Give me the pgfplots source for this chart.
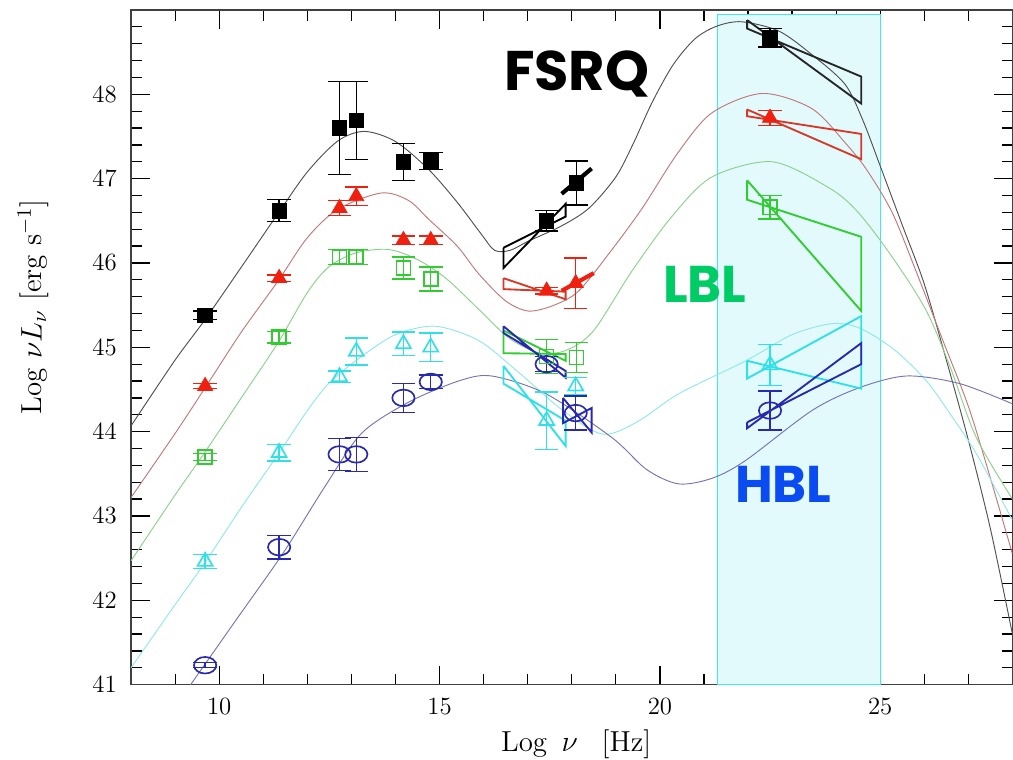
\documentclass[border=0pt]{standalone}
\usepackage{fontspec}
\usepackage{pgfplots}
\pgfplotsset{compat=1.18}
\usetikzlibrary{calc}
\newfontfamily\labfont{Poppins}[UprightFont=* Bold]

\definecolor{bzBlack}{HTML}{000000}
\definecolor{bzRed}{HTML}{F02010}
\definecolor{bzRedBow}{HTML}{D83828}
\definecolor{bzGreen}{HTML}{30CC30}
\definecolor{bzCyan}{HTML}{30E0E8}
\definecolor{bzBlue}{HTML}{2828B0}
\definecolor{cvBlack}{HTML}{505050}
\definecolor{cvRed}{HTML}{C07878}
\definecolor{cvGreen}{HTML}{8CD08C}
\definecolor{cvCyan}{HTML}{90E8E8}
\definecolor{cvBlue}{HTML}{7474B4}
\definecolor{bandFill}{HTML}{E2FAFC}
\definecolor{bandLine}{HTML}{40E8F0}
\definecolor{lblGreen}{HTML}{00CC66}
\definecolor{hblBlue}{HTML}{0A4CF2}

\begin{document}
\begin{tikzpicture}
\begin{axis}[
    scale only axis,
    width=14.99cm, height=11.475cm,
    xmin=8, xmax=28, ymin=41, ymax=49,
    xtick={10,15,20,25}, minor xtick={8,9,...,28},
    ytick={41,...,48}, minor ytick={41,41.2,...,49},
    tick align=inside,
    major tick length=0.32cm, minor tick length=0.18cm,
    tick style={black, line width=0.6pt},
    axis line style={draw=black!75, line width=0.7pt},
    tick label style={font=\fontsize{13}{15}\selectfont},
    xticklabel style={yshift=-0.12cm},
    yticklabel style={xshift=-0.12cm},
    every axis x label/.style={at={(axis description cs:0.505,-0.089)},anchor=center},
    every axis y label/.style={at={(axis description cs:-0.111,0.56)},rotate=90,anchor=center},
    xlabel={\fontsize{14}{16}\selectfont Log\enspace $\nu$\enspace\ [Hz]},
    ylabel={\fontsize{14}{16}\selectfont Log $\nu L_\nu$ [erg s$^{-1}$]},
    error bars/error bar style={line width=0.7pt},
    error bars/error mark options={rotate=90, mark size=0.2cm, line width=0.7pt},
]

% gamma-ray band
\addplot[fill=bandFill, draw=bandLine, line width=0.5pt]
    coordinates {(21.3,41) (21.3,48.95) (25,48.95) (25,41) (21.3,41)};

% model curves
\addplot[cvBlack, line width=0.45pt, smooth] coordinates {
 (8,44.07) (9,44.85) (9.68,45.33) (10.5,45.95) (11.3,46.56) (12,47.08) (12.7,47.45)
 (13.3,47.56) (14,47.44) (14.75,47.11) (15.4,46.72) (15.95,46.34) (16.25,46.15)
 (16.6,46.15) (17.02,46.26) (17.77,46.44) (18.39,46.65) (19.0,47.02) (19.4,47.42)
 (19.82,47.9) (20.3,48.35) (20.8,48.66) (21.3,48.81) (21.86,48.86) (22.7,48.75)
 (23.45,48.47) (24.2,48.12) (24.6,47.7) (25.0,47.15) (25.5,46.45) (26.0,45.75)
 (26.5,44.85) (27.0,43.9) (27.5,42.85) (28,41.6)};
\addplot[cvRed, line width=0.45pt, smooth] coordinates {
 (8,43.22) (9,43.98) (9.68,44.52) (10.5,45.18) (11.34,45.79) (12,46.3) (12.7,46.64)
 (13.68,46.83) (14.3,46.74) (14.75,46.52) (15.4,46.2) (15.89,45.87) (16.5,45.55)
 (17.02,45.43) (17.6,45.5) (18.16,45.67) (18.9,46.15) (19.6,46.65) (20.4,47.3)
 (21.18,47.78) (22.32,48.01) (23.45,47.83) (24.23,47.41) (24.7,47.1) (25.27,46.6)
 (25.8,45.92) (26.4,45.11) (27.0,44.3) (27.5,43.45) (28,42.55)};
\addplot[cvGreen, line width=0.45pt, smooth] coordinates {
 (8,42.47) (9,43.25) (9.68,43.76) (10.5,44.4) (11.34,45.06) (12.0,45.65)
 (12.48,45.95) (13.1,46.12) (13.84,46.16) (14.5,46.04) (15.14,45.82) (15.89,45.45)
 (16.6,45.1) (17.3,44.93) (17.9,44.97) (18.5,45.2) (19.36,45.9) (20.27,46.55)
 (21.18,47.02) (22.55,47.2) (23.84,46.89) (24.5,46.6) (25.3,46.05) (26.05,45.43)
 (26.6,44.75) (27.18,43.93) (28,43.2)};
\addplot[cvCyan, line width=0.45pt, smooth] coordinates {
 (8,41.2) (9,41.95) (9.68,42.45) (10.5,43.1) (11.36,43.75) (12.0,44.25)
 (12.5,44.58) (13.2,44.88) (14.0,45.15) (14.9,45.25) (15.89,45.08) (16.8,44.7)
 (17.8,44.25) (18.7,43.97) (19.5,44.12) (20.43,44.45) (21.95,44.84) (23.0,45.15)
 (23.9,45.28) (24.52,45.23) (25.3,44.98) (26.05,44.6) (26.6,44.2) (27.18,43.74)
 (28,42.95)};
\addplot[cvBlue, line width=0.45pt, smooth] coordinates {
 (9.15,40.85) (10.4,41.78) (11.45,42.56) (12.4,43.35) (13.23,43.98) (14.3,44.35)
 (15.43,44.6) (16.18,44.66) (17.41,44.45) (18.91,43.93) (19.7,43.55) (20.43,43.38)
 (21.2,43.45) (21.95,43.66) (23.45,44.25) (24.52,44.52) (25.6,44.66) (26.8,44.57)
 (28,44.33)};

% bow ties
\addplot[bzBlack, line width=0.9pt] coordinates {(16.45,46.18) (17.86,46.55) (17.86,46.70) (16.45,45.94) (16.45,46.18)};
\addplot[bzBlack, line width=2pt] coordinates {(17.77,46.82) (18.45,47.12)};
\addplot[bzBlack!85, line width=0.9pt] coordinates {(21.98,48.88) (24.57,47.89) (24.57,48.21) (21.98,48.78) (21.98,48.88)};
\addplot[bzRedBow, line width=0.9pt] coordinates {(16.45,45.82) (17.86,45.57) (17.86,45.66) (16.45,45.69) (16.45,45.82)};
\addplot[bzRed, line width=2pt] coordinates {(17.77,45.67) (18.5,45.88)};
\addplot[bzRedBow, line width=0.9pt] coordinates {(21.98,47.82) (24.57,47.23) (24.57,47.53) (21.98,47.74) (21.98,47.82)};
\addplot[bzGreen, line width=0.9pt] coordinates {(16.45,45.20) (17.86,44.84) (17.86,44.92) (16.45,44.93) (16.45,45.20)};
\addplot[bzGreen, line width=0.9pt] coordinates {(21.98,46.98) (24.57,45.43) (24.57,46.31) (21.98,46.75) (21.98,46.98)};
\addplot[bzCyan, line width=0.9pt] coordinates {(16.45,44.78) (17.86,43.83) (17.86,44.13) (16.45,44.57) (16.45,44.78)};
\addplot[bzCyan, line width=0.9pt] coordinates {(21.98,44.84) (24.57,44.51) (24.57,45.37) (21.98,44.63) (21.98,44.84)};
\addplot[bzBlue, line width=0.9pt] coordinates {(16.45,45.25) (17.86,44.64) (17.86,44.72) (16.45,45.17) (16.45,45.25)};
\addplot[bzBlue, line width=0.9pt] coordinates {(17.80,44.40) (18.45,43.99) (18.45,44.28) (17.80,44.10) (17.80,44.40)};
\addplot[bzBlue, line width=0.9pt] coordinates {(21.98,44.11) (24.57,44.80) (24.57,45.05) (21.98,44.04) (21.98,44.11)};

% data points
\addplot[only marks, mark=square*, mark size=3.5pt, color=bzBlack,
    error bars/.cd, y dir=both, y explicit] coordinates {
 (9.68,45.38) +- (0,0.05) (11.36,46.62) +- (0,0.13) (12.73,47.60) +- (0,0.55)
 (13.11,47.69) +- (0,0.46) (14.18,47.20) +- (0,0.22) (14.80,47.21) +- (0,0.10)
 (17.43,46.50) +- (0,0.12) (18.11,46.95) +- (0,0.26) (22.50,48.67) +- (0,0.11)};
\addplot[only marks, mark=triangle*, mark size=4.2pt, color=bzRed,
    error bars/.cd, y dir=both, y explicit] coordinates {
 (9.68,44.54) +- (0,0.03) (11.36,45.82) +- (0,0.04) (12.73,46.65) +- (0,0.09)
 (13.11,46.79) +- (0,0.11) (14.18,46.27) +- (0,0.05) (14.80,46.27) +- (0,0.05)
 (17.43,45.67) +- (0,0.04) (18.09,45.76) +- (0,0.30) (22.50,47.72) +- (0,0.09)};
\addplot[only marks, mark=square, mark size=3.4pt, color=bzGreen, mark options={line width=0.8pt},
    error bars/.cd, y dir=both, y explicit] coordinates {
 (9.68,43.70) +- (0,0.04) (11.36,45.12) +- (0,0.07) (12.73,46.07) +- (0,0.09)
 (13.11,46.07) +- (0,0.09) (14.18,45.94) +- (0,0.13) (14.80,45.81) +- (0,0.14)
 (17.43,44.89) +- (0,0.20) (18.11,44.88) +- (0,0.18) (22.50,46.66) +- (0,0.14)};
\addplot[only marks, mark=triangle, mark size=4.2pt, color=bzCyan, mark options={line width=0.8pt},
    error bars/.cd, y dir=both, y explicit] coordinates {
 (9.68,42.46) +- (0,0.08) (11.36,43.75) +- (0,0.10) (12.73,44.65) +- (0,0.07)
 (13.11,44.95) +- (0,0.16) (14.18,45.04) +- (0,0.14) (14.80,45.00) +- (0,0.17)
 (17.43,44.13) +- (0,0.34) (18.09,44.54) +- (0,0.10) (22.50,44.79) +- (0,0.24)};
\addplot[only marks, mark=o, mark size=4pt, color=bzBlue,
    mark options={line width=0.8pt, xscale=1.35},
    error bars/.cd, y dir=both, y explicit] coordinates {
 (9.68,41.23) +- (0,0.03) (11.36,42.63) +- (0,0.14) (12.73,43.73) +- (0,0.19)
 (13.11,43.73) +- (0,0.20) (14.18,44.40) +- (0,0.17) (14.80,44.59) +- (0,0.08)
 (17.43,44.80) +- (0,0.09) (18.09,44.22) +- (0,0.20) (22.50,44.25) +- (0,0.23)};

% class labels
\node[font=\labfont\fontsize{27}{30}\selectfont, text=black] at (axis cs:18.11,48.24) {FSRQ};
\node[font=\labfont\fontsize{25}{28}\selectfont, text=lblGreen] at (axis cs:21.02,45.75) {LBL};
\node[font=\labfont\fontsize{25}{28}\selectfont, text=hblBlue] at (axis cs:22.8,43.37) {HBL};
\end{axis}
\pgfresetboundingbox
\path ($(current axis.south west)+(-2.23cm,-1.275cm)$) rectangle ($(current axis.north east)+(0.01cm,0.17cm)$);
\end{tikzpicture}
\end{document}
